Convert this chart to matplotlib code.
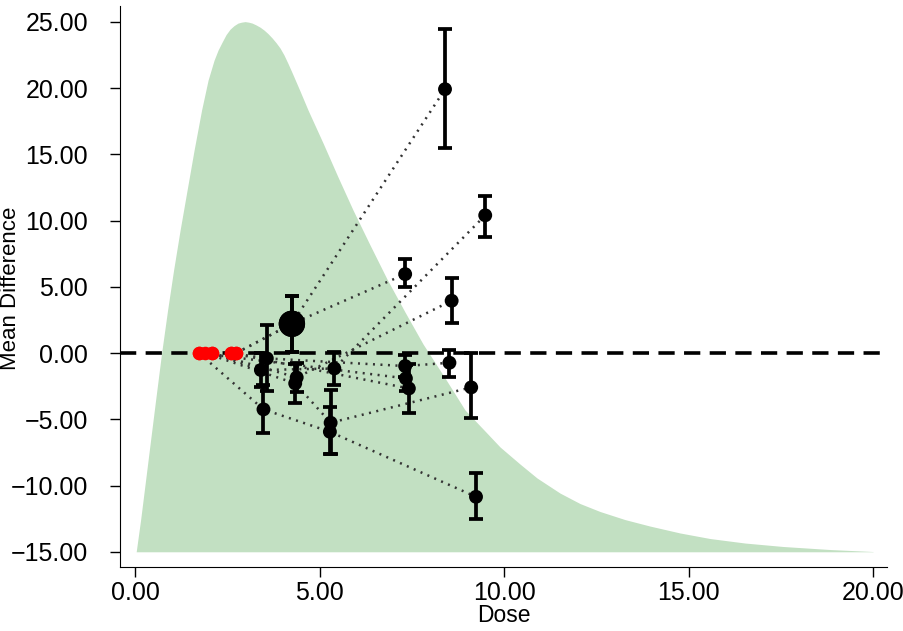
import matplotlib
matplotlib.use("Agg")
import matplotlib.pyplot as plt
from matplotlib.ticker import FuncFormatter
import numpy as np

plt.rcParams['font.family'] = ['Liberation Sans', 'DejaVu Sans']

# Density of the dose distribution (drawn as a shaded band behind the studies)
curve_dose = [0.03, 0.149, 0.285, 0.420, 0.556, 0.718, 0.881, 1.043, 1.220, 1.409,
              1.599, 1.802, 1.978, 2.141, 2.249, 2.358, 2.466, 2.575, 2.683, 2.791,
              2.886, 2.981, 3.076, 3.171, 3.279, 3.388, 3.496, 3.604, 3.713, 3.821,
              3.930, 4.038, 4.146, 4.255, 4.472, 4.688, 5.095, 5.501, 5.908, 6.369,
              6.829, 7.317, 7.805, 8.401, 8.943, 9.485, 9.892, 10.434, 10.894,
              11.518, 12.060, 12.602, 13.279, 13.957, 14.770, 15.583, 16.531,
              17.561, 18.835, 20.0]
curve_height = [-15.0, -12.60, -9.58, -6.57, -3.55, 0.0, 3.25, 6.26, 9.28, 12.30,
                15.32, 18.34, 20.60, 22.11, 22.87, 23.47, 24.04, 24.45, 24.72, 24.91,
                24.98, 25.02, 24.98, 24.91, 24.77, 24.60, 24.38, 24.11, 23.79, 23.43,
                23.02, 22.49, 21.85, 21.17, 19.77, 18.34, 15.85, 13.28, 10.79, 8.15,
                5.58, 3.09, 0.68, -1.89, -4.30, -5.89, -7.09, -8.38, -9.43,
                -10.57, -11.36, -11.96, -12.57, -13.06, -13.58, -14.00, -14.34,
                -14.60, -14.83, -14.98]
baseline = -15.0

# Reference arm of each study (mean difference 0 by definition)
ref_study = [1, 2, 3, 4, 5, 6, 7, 8, 9]
ref_dose = [2.74, 2.74, 1.73, 2.09, 2.60, 1.90, 2.09, 1.73, 2.60]

# Non-reference arms
arm_study = [1, 1, 2, 2, 3, 3, 3, 4, 4, 4, 5, 5, 5, 6, 6, 6, 7, 7, 8, 9]
arm_dose = [4.25, 8.40, 4.25, 7.32, 3.48, 5.28, 9.24, 3.41, 5.40, 9.49,
            3.57, 7.32, 8.52, 4.34, 5.30, 9.11, 4.38, 8.58, 7.34, 7.42]
arm_md = [2.21, 19.92, 2.21, 5.96, -4.25, -5.94, -10.85, -1.28, -1.16, 10.40,
          -0.40, -0.98, -0.73, -2.29, -5.26, -2.59, -1.84, 3.95, -1.91, -2.67]
arm_lo = [0.05, 15.45, 0.05, 4.96, -6.06, -7.62, -12.55, -2.53, -2.42, 8.75,
          -2.90, -1.80, -1.79, -3.80, -7.62, -4.93, -2.94, 2.29, -2.90, -4.55]
arm_hi = [4.30, 24.50, 4.30, 7.07, -2.44, -4.10, -9.08, -0.03, 0.10, 11.85,
          2.11, -0.15, 0.23, -0.80, -2.75, -0.03, -0.73, 5.64, -0.90, -0.80]
arm_n = [90, 25, 90, 25, 25, 25, 25, 25, 25, 25,
         25, 25, 25, 25, 25, 25, 25, 25, 25, 25]

fig = plt.figure(figsize=(9.04, 6.31), dpi=100)
ax = fig.add_axes([0.1327, 0.1014, 0.8485, 0.8891])

ax.fill_between(curve_dose, curve_height, baseline, color='#c2e0c2', lw=0, zorder=1)
ax.axhline(0, color='black', lw=2.6, ls=(0, (4.5, 2.6)), zorder=2)

arm_study = np.array(arm_study)
arm_dose = np.array(arm_dose)
arm_md = np.array(arm_md)
# join the arms of each study in dose order, starting from its reference
for s, d0 in zip(ref_study, ref_dose):
    idx = np.where(arm_study == s)[0]
    idx = idx[np.argsort(arm_dose[idx])]
    xs = [d0] + list(arm_dose[idx])
    ys = [0] + list(arm_md[idx])
    ax.plot(xs, ys, color='#333333', lw=1.8, ls=(0, (0.8, 2.2)), zorder=3)

yerr = [arm_md - np.array(arm_lo), np.array(arm_hi) - arm_md]
ax.errorbar(arm_dose, arm_md, yerr=yerr, fmt='none', ecolor='black',
            elinewidth=2.7, capsize=5.2, capthick=2.7, zorder=4)
ax.scatter(arm_dose, arm_md, s=np.array(arm_n) * 4.0, color='black', lw=0, zorder=5)
ax.scatter(ref_dose, np.zeros(len(ref_dose)), s=95, color='#ff0000', lw=0, zorder=6)

ax.set_xlim(-0.41, 20.38)
ax.set_ylim(-16.15, 26.2)
ax.set_xticks([0, 5, 10, 15, 20])
ax.set_yticks([-15, -10, -5, 0, 5, 10, 15, 20, 25])
fmt = FuncFormatter(lambda v, pos: f'{v:.2f}'.replace('-', '\u2212'))
ax.xaxis.set_major_formatter(fmt)
ax.yaxis.set_major_formatter(fmt)
ax.tick_params(direction='out', length=7, width=1, labelsize=18, pad=3)
ax.tick_params(axis='y', pad=16)
for side in ['top', 'right']:
    ax.spines[side].set_visible(False)
ax.set_xlabel('Dose', fontsize=16.5, labelpad=-1)
ax.set_ylabel('Mean Difference', fontsize=16)
ax.yaxis.set_label_coords(-0.129, 0.497)

fig.savefig('out.png', dpi=100)
